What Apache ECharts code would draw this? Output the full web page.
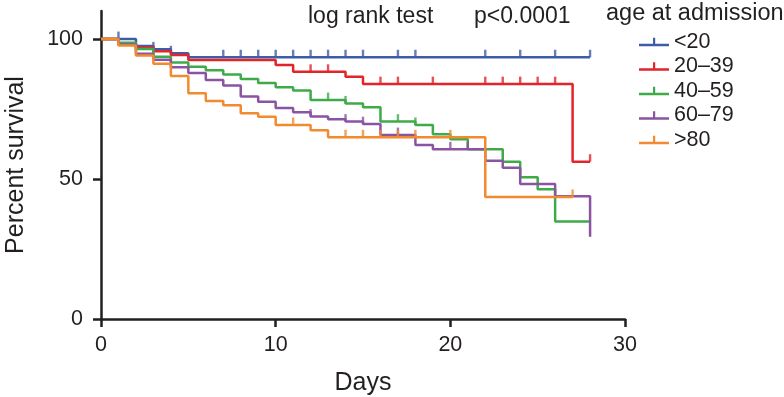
<!DOCTYPE html>
<html>
<head>
<meta charset="utf-8">
<script src="https://cdn.jsdelivr.net/npm/echarts@6/dist/echarts.min.js"></script>
<style>
html,body{margin:0;padding:0;background:#fff;}
#chart{width:784px;height:397px;}
</style>
</head>
<body>
<div id="chart"></div>
<script>
// ---- data ----
var seriesNames = ['<20', '20\u201339', '40\u201359', '60\u201379', '>80'];

var blueDays = [0, 2, 3, 4, 5, 28];
var blueVals = [100, 97.5, 96.3, 94.9, 93.5, 93.5];
var blueCensor = [1, 3, 4, 7, 8, 9, 10, 11, 12, 13, 14, 15, 17, 18, 22, 24, 26, 28];

var redDays = [0, 1, 2, 3, 4, 5, 10, 11, 14, 15, 27, 28];
var redVals = [100, 98.2, 97, 95.6, 94.3, 92.5, 90.7, 88.3, 86.5, 83.9, 56.2, 56.2];
var redCensor = [12, 13, 16, 17, 19, 22, 23, 24, 25, 26, 28];

var greenDays = [0, 1, 2, 3, 4, 5, 6, 7, 8, 9, 10, 11, 12, 14, 15, 16, 18, 19, 20, 21, 23, 24, 25, 26, 28];
var greenVals = [100, 98.7, 96.4, 93.7, 91.6, 90.1, 88.8, 87.3, 85.7, 84.3, 82.8, 81.6, 78.2, 77, 75.6, 70.5, 69.3, 66, 64.2, 60.6, 56.2, 50.6, 46.3, 34.8, 34.8];
var greenCensor = [13, 14, 17, 18];

var purpleDays = [0, 1, 2, 3, 4, 5, 6, 7, 8, 9, 10, 11, 12, 13, 14, 15, 16, 18, 19, 22, 23, 24, 26, 28];
var purpleVals = [100, 98, 94.7, 92.6, 89.9, 87.9, 85.4, 83.4, 79.5, 77.6, 75.4, 73.8, 72.3, 71.3, 70.5, 69.6, 65.7, 62.1, 60.6, 56.5, 54, 48.2, 43.8, 29.4];
var purpleCensor = [12, 14, 15, 17, 20, 21];

var orangeDays = [0, 1, 2, 3, 4, 5, 6, 7, 8, 9, 10, 12, 13, 22, 27];
var orangeVals = [100, 97.7, 94.1, 91.2, 86.8, 80.6, 77.9, 76.3, 73.5, 72.2, 69.3, 67.4, 64.9, 43.6, 43.6];
var orangeCensor = [11, 14, 15, 16, 17, 18, 20, 27];

var yTicks = [0, 50, 100];
var xTicks = [0, 10, 20, 30];

var colors = ['#3D5DAA', '#E2242B', '#3EAA48', '#8B54A2', '#F28A2F'];
var textColor = '#231F20';
var font = 'Liberation Sans, Arial, sans-serif';

// ---- build ----
function pairs(days, vals) {
  return days.map(function (d, i) { return [d, vals[i]]; });
}
function levelAt(days, vals, d) {
  var v = vals[0];
  for (var i = 0; i < days.length; i++) { if (days[i] <= d) v = vals[i]; }
  return v;
}
var groups = [
  [blueDays, blueVals, blueCensor],
  [redDays, redVals, redCensor],
  [greenDays, greenVals, greenCensor],
  [purpleDays, purpleVals, purpleCensor],
  [orangeDays, orangeVals, orangeCensor]
];

var series = [];
groups.forEach(function (g, i) {
  series.push({
    name: seriesNames[i],
    type: 'line',
    step: 'end',
    data: pairs(g[0], g[1]),
    showSymbol: false,
    symbol: 'none',
    lineStyle: { color: colors[i], width: 2.5 },
    itemStyle: { color: colors[i] },
    z: 2 + i,
    animation: false
  });
});
groups.forEach(function (g, i) {
  series.push({
    name: 'censor' + i,
    type: 'scatter',
    data: g[2].map(function (d) { return [d, levelAt(g[0], g[1], d)]; }),
    symbol: 'rect',
    symbolSize: [2.4, 7.5],
    symbolOffset: [0, -3.7],
    itemStyle: { color: colors[i] },
    z: 2 + i,
    silent: true,
    animation: false
  });
});

var chart = echarts.init(document.getElementById('chart'));
chart.setOption({
  animation: false,
  backgroundColor: '#ffffff',
  grid: { left: 101, right: 159, top: 11, bottom: 78, containLabel: false, outerBoundsMode: 'none' },
  xAxis: {
    type: 'value', min: 0, max: 30, interval: 10,
    name: 'Days', nameLocation: 'middle', nameGap: 52,
    nameTextStyle: { fontSize: 25, color: textColor, fontFamily: font },
    axisLine: { show: true, onZero: false, lineStyle: { color: textColor, width: 2.5 } },
    axisTick: { show: true, length: 8, lineStyle: { color: textColor, width: 2.5 } },
    axisLabel: { fontSize: 21.5, color: textColor, fontFamily: font, margin: 15 },
    splitLine: { show: false }
  },
  yAxis: {
    type: 'value', min: 0, max: 110,
    name: 'Percent survival', nameLocation: 'middle', nameGap: 72,
    nameTextStyle: { fontSize: 25, color: textColor, fontFamily: font },
    axisLine: { show: true, onZero: false, lineStyle: { color: textColor, width: 2.5 } },
    axisTick: { show: true, length: 8, customValues: yTicks, lineStyle: { color: textColor, width: 2.5 } },
    axisLabel: { fontSize: 21.5, color: textColor, fontFamily: font, margin: 18, customValues: yTicks },
    splitLine: { show: false }
  },
  legend: {
    data: seriesNames,
    orient: 'vertical',
    left: 634, top: 26,
    itemWidth: 30, itemHeight: 8.5,
    itemGap: 2.5,
    icon: 'path://M0,6h30v2.5h-30z M14,0h2.2v6h-2.2z',
    textStyle: { fontSize: 21.5, color: textColor, fontFamily: font, padding: [0, 0, 0, 0] },
    selectedMode: false
  },
  graphic: [
    { type: 'text', left: 606, top: 2, style: { text: 'age at admission', font: '23.5px ' + font, fill: textColor } },
    { type: 'text', left: 308, top: 5, style: { text: 'log rank test', font: '23px ' + font, fill: textColor } },
    { type: 'text', left: 474, top: 5, style: { text: 'p<0.0001', font: '23px ' + font, fill: textColor } }
  ],
  series: series
});
</script>
</body>
</html>
